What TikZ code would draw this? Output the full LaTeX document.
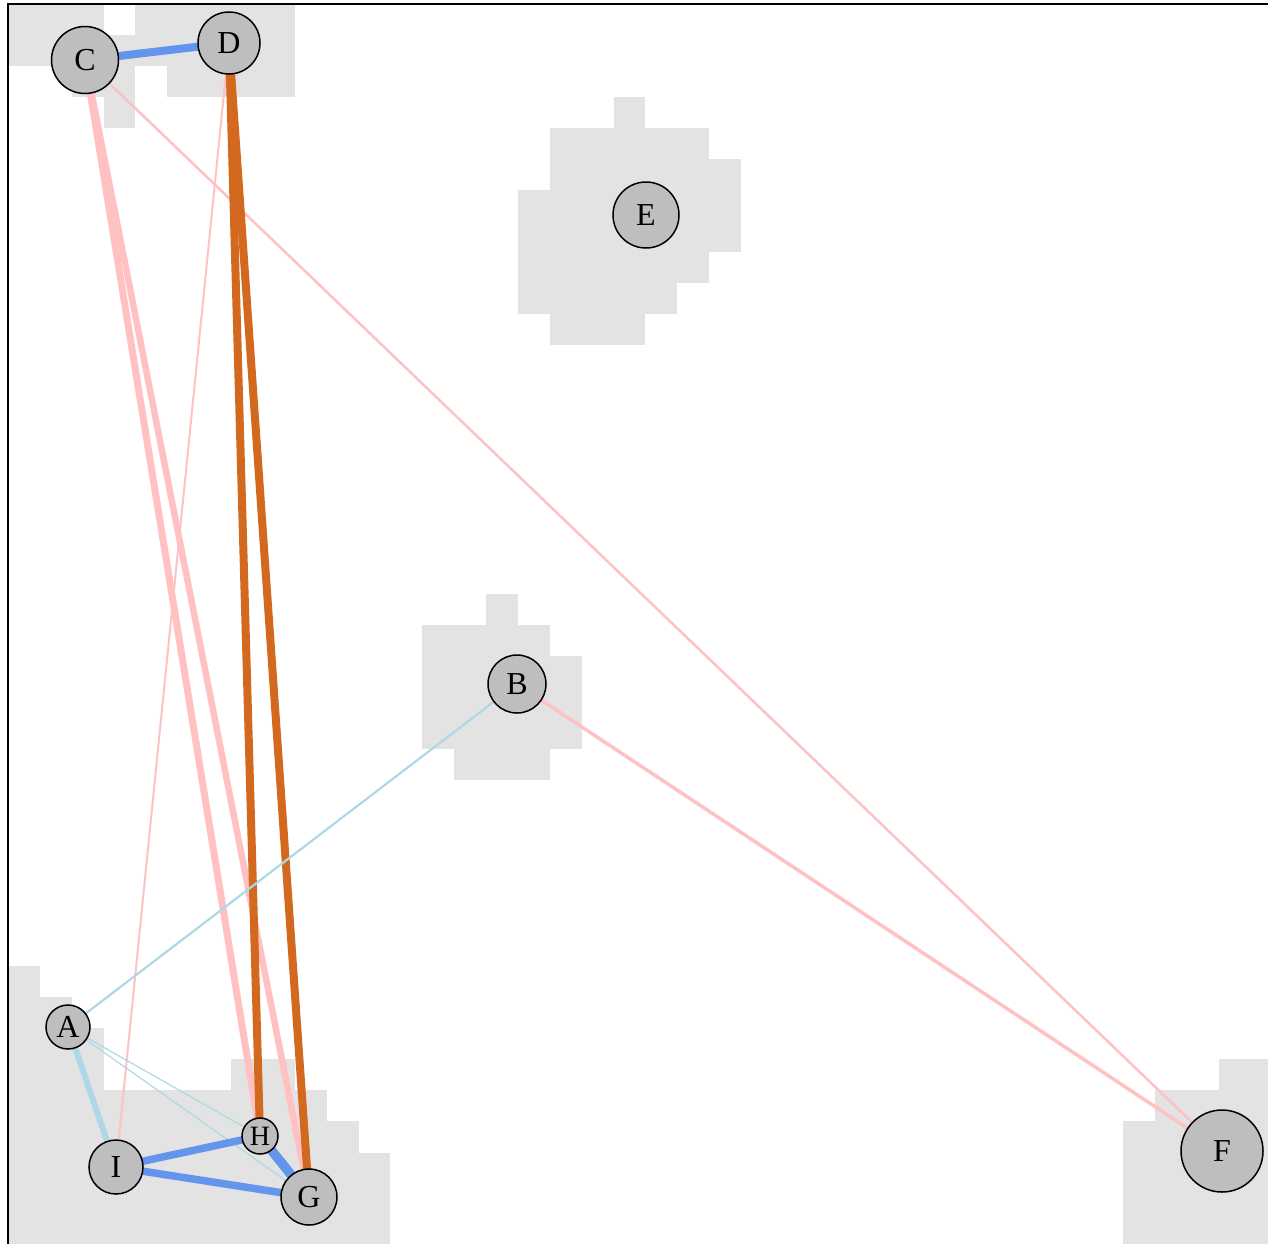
\documentclass[tikz,border=0pt]{standalone}
\usepackage{fontspec}
\setmainfont{Liberation Serif}
\usetikzlibrary{backgrounds}
\definecolor{nodegray}{HTML}{BEBEBE}
\definecolor{cellgray}{HTML}{E3E3E3}
\definecolor{pinkedge}{HTML}{FFC1C1}
\definecolor{blueedge}{HTML}{6495ED}
\definecolor{orangeedge}{HTML}{D2691E}
\definecolor{lightedge}{HTML}{ADD8E6}
\begin{document}
\begin{tikzpicture}[x=1pt,y=-1pt,
  vtx/.style={circle,draw=black,line width=1.5pt,fill=nodegray,inner sep=0pt,font=\fontsize{32}{32}\selectfont}]
\useasboundingbox (0,0) rectangle (1268,1243);
\clip (0,0) rectangle (1268,1243);
\node[vtx,minimum size=67pt] (C) at (85,60) {C};
\node[vtx,minimum size=62pt] (D) at (229,43) {D};
\node[vtx,minimum size=66pt] (E) at (646,215) {E};
\node[vtx,minimum size=58pt] (B) at (517,684) {B};
\node[vtx,minimum size=82pt] (F) at (1222,1151) {F};
\node[vtx,minimum size=44pt] (A) at (68,1027) {A};
\node[vtx,minimum size=54pt] (I) at (116,1167) {I};
\node[vtx,minimum size=36pt,font=\fontsize{28}{28}\selectfont] (H) at (260,1136) {H};
\node[vtx,minimum size=56pt] (G) at (309,1197) {G};
\begin{scope}[on background layer]
% gray cells, row/first col/last col
\foreach \r/\a/\b in {0/0/2, 0/4/8, 1/0/8, 2/2/3, 2/5/8, 3/3/3,
  3/19/19, 4/17/21, 5/17/22, 6/16/22, 7/16/22, 8/16/21, 9/16/20, 10/17/19,
  19/15/15, 20/13/16, 21/13/17, 22/13/17, 23/13/17, 24/14/16,
  31/0/0, 32/0/1, 33/0/2, 34/0/2, 34/7/8, 35/0/9, 36/0/10, 37/0/11, 38/0/11, 39/0/11,
  34/38/39, 35/36/39, 36/35/39, 37/35/39, 38/35/39, 39/35/39}
  \fill[cellgray] (8+31.87*\a,4+31.04*\r) rectangle ++(31.87*\b-31.87*\a+31.87,31.04);
\draw[line width=1.5pt] (8,4) rectangle (1282.8,1245.6);
% edges
\draw[pinkedge,line width=2.5pt] (C.center) -- (F.center);
\draw[pinkedge,line width=2pt] (D.center) -- (I.center);
\draw[pinkedge,line width=3.5pt] (B.center) -- (F.center);
\draw[pinkedge,line width=7pt] (C.center) -- (H.center);
\draw[pinkedge,line width=6.5pt] (C.center) -- (G.center);
\draw[orangeedge,line width=8pt] (D.center) -- (H.center);
\draw[orangeedge,line width=8pt] (D.center) -- (G.center);
\draw[blueedge,line width=8pt] (C.center) -- (D.center);
\draw[lightedge,line width=2.2pt] (A.center) -- (B.center);
\draw[lightedge,line width=6pt] (A.center) -- (I.center);
\draw[lightedge,line width=1.2pt] (A.center) -- (H.center);
\draw[lightedge,line width=1.2pt] (A.center) -- (G.center);
\draw[blueedge,line width=7.5pt] (I.center) -- (H.center);
\draw[blueedge,line width=7.5pt] (I.center) -- (G.center);
\draw[blueedge,line width=9.5pt] (H.center) -- (G.center);
\end{scope}
\end{tikzpicture}
\end{document}
